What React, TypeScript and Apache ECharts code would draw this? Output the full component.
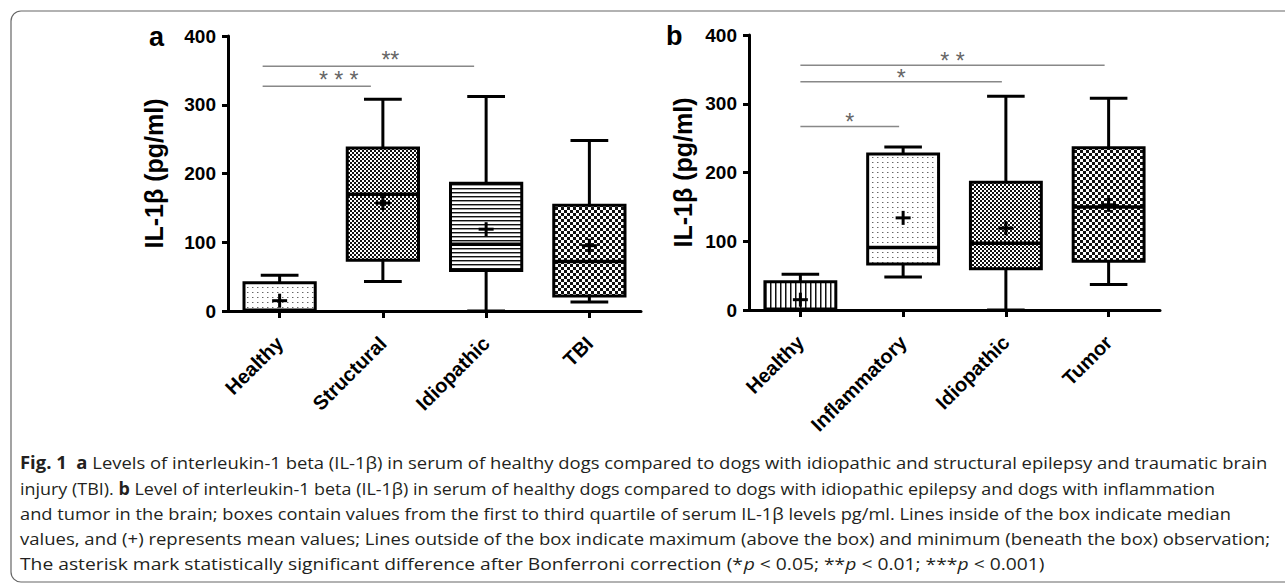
import React, { useEffect, useRef } from 'react';
import * as echarts from 'echarts';

// ---------- Data ----------
const catsA = ['Healthy', 'Structural', 'Idiopathic', 'TBI'];
const minA = [0, 43, 0, 13];
const q1A = [0, 74, 59, 22];
const medA = [1, 170, 97, 72];
const q3A = [41, 237, 186, 154];
const maxA = [52, 308, 312, 248];
const meanA = [15, 157, 119, 95];

const catsB = ['Healthy', 'Inflammatory', 'Idiopathic', 'Tumor'];
const minB = [0, 48, 0, 37];
const q1B = [0, 67, 60, 71];
const medB = [1, 91, 97, 150];
const q3B = [41, 227, 186, 236];
const maxB = [52, 237, 311, 308];
const meanB = [15, 134, 119, 153];

// significance bars: [fromIndex, toIndex, yValue]
const sigFromA = [0, 0];
const sigToA = [1, 2];
const sigYA = [327, 356];
const sigLabelA = ['* * *', '**'];

const sigFromB = [0, 0, 0];
const sigToB = [1, 2, 3];
const sigYB = [267, 332, 356];
const sigLabelB = ['*', '*', '* *'];

const yTicks = [0, 100, 200, 300, 400];

// fill styles per box
const patA = ['dots', 'checkFine', 'hstripes', 'checkLarge'];
const patB = ['vstripes', 'dots', 'checkMed', 'checkLarge'];

const captionLines = [
  '{b|Fig. 1}  {b|a} Levels of interleukin-1 beta (IL-1β) in serum of healthy dogs compared to dogs with idiopathic and structural epilepsy and traumatic brain',
  'injury (TBI). {b|b} Level of interleukin-1 beta (IL-1β) in serum of healthy dogs compared to dogs with idiopathic epilepsy and dogs with inflammation',
  'and tumor in the brain; boxes contain values from the first to third quartile of serum IL-1β levels pg/ml. Lines inside of the box indicate median',
  'values, and (+) represents mean values; Lines outside of the box indicate maximum (above the box) and minimum (beneath the box) observation;',
  'The asterisk mark statistically significant difference after Bonferroni correction (*{i|p} < 0.05; **{i|p} < 0.01; ***{i|p} < 0.001)',
];
const captionTargetW = [1248, 1195, 1213, 1250, 1025];
const captionY = [462, 488, 513, 538, 563];

// ---------- helpers ----------
const AX_FONT = "'Liberation Sans', Arial, Helvetica, sans-serif";
const CAP_FONT = "'Open Sans', 'Noto Sans', sans-serif";
const CAP_SIZE = 17;

function makePattern(kind: string) {
  const c = document.createElement('canvas');
  let w = 4, h = 4;
  if (kind === 'dots') { w = 5; h = 5; }
  if (kind === 'vstripes') { w = 5; h = 4; }
  if (kind === 'checkLarge') { w = 6; h = 6; }
  c.width = w; c.height = h;
  const ctx = c.getContext('2d')!;
  ctx.fillStyle = '#fff';
  ctx.fillRect(0, 0, w, h);
  if (kind === 'dots') {
    ctx.fillStyle = '#666';
    ctx.fillRect(2, 2, 1, 1);
    ctx.fillStyle = '#bbb';
    ctx.fillRect(3, 2, 1, 1);
  } else if (kind === 'hstripes') {
    ctx.fillStyle = '#111';
    ctx.fillRect(0, 0, w, 1);
    ctx.fillStyle = '#999';
    ctx.fillRect(0, 1, w, 1);
  } else if (kind === 'vstripes') {
    ctx.fillStyle = '#111';
    ctx.fillRect(0, 0, 1, h);
    ctx.fillStyle = '#888';
    ctx.fillRect(1, 0, 1, h);
  } else if (kind === 'checkFine' || kind === 'checkMed') {
    ctx.fillStyle = '#111';
    ctx.fillRect(0, 0, 2, 2);
    ctx.fillRect(2, 2, 2, 2);
  } else if (kind === 'checkLarge') {
    ctx.fillStyle = '#111';
    ctx.fillRect(0, 0, 3, 3);
    ctx.fillRect(3, 3, 3, 3);
  }
  return { image: c.toDataURL(), imageWidth: w, imageHeight: h, repeat: 'repeat' };
}

function measureRich(str: string, size: number, fam: string) {
  const ctx = document.createElement('canvas').getContext('2d')!;
  let total = 0;
  let last = 0;
  const re = /\{(\w)\|([^}]*)\}/g;
  let m: RegExpExecArray | null;
  const seg = (t: string, weight: string, style: string) => {
    ctx.font = `${style} ${weight} ${size}px ${fam}`;
    total += ctx.measureText(t).width;
  };
  while ((m = re.exec(str))) {
    seg(str.slice(last, m.index), 'normal', 'normal');
    seg(m[2], m[1] === 'b' ? 'bold' : 'normal', m[1] === 'i' ? 'italic' : 'normal');
    last = re.lastIndex;
  }
  seg(str.slice(last), 'normal', 'normal');
  return total;
}

function boxRender(patterns: string[], fills: Record<string, any>) {
  return (params: any, api: any) => {
    const i = api.value(0);
    const xc = api.coord([i, 0])[0];
    const band = api.size([1, 0])[0];
    const w = band * 0.69;
    const cap = w * 0.53;
    const yMin = api.coord([i, api.value(1)])[1];
    const yQ1 = api.coord([i, api.value(2)])[1];
    const yMed = api.coord([i, api.value(3)])[1];
    const yQ3 = api.coord([i, api.value(4)])[1];
    const yMax = api.coord([i, api.value(5)])[1];
    const yMean = api.coord([i, api.value(6)])[1];
    const blk = { stroke: '#000', lineWidth: 3 };
    const fill = fills[patterns[params.dataIndex]];
    return {
      type: 'group',
      children: [
        { type: 'line', shape: { x1: xc, y1: yMax, x2: xc, y2: yQ3 }, style: blk },
        { type: 'line', shape: { x1: xc - cap / 2, y1: yMax, x2: xc + cap / 2, y2: yMax }, style: blk },
        { type: 'line', shape: { x1: xc, y1: yQ1, x2: xc, y2: yMin }, style: blk },
        { type: 'line', shape: { x1: xc - cap / 2, y1: yMin, x2: xc + cap / 2, y2: yMin }, style: blk },
        {
          type: 'rect',
          shape: { x: xc - w / 2, y: yQ3, width: w, height: yQ1 - yQ3 },
          style: { fill, stroke: '#000', lineWidth: 3 },
        },
        { type: 'line', shape: { x1: xc - w / 2, y1: yMed, x2: xc + w / 2, y2: yMed }, style: { stroke: '#000', lineWidth: 3.5 } },
        { type: 'line', shape: { x1: xc - 7.5, y1: yMean, x2: xc + 7.5, y2: yMean }, style: blk },
        { type: 'line', shape: { x1: xc, y1: yMean - 7, x2: xc, y2: yMean + 7 }, style: blk },
      ],
    };
  };
}

function sigRender(labels: string[], startOff: number, endOff: number, labelDx: number, labelDy: number) {
  return (params: any, api: any) => {
    const p1 = api.coord([api.value(0), api.value(2)]);
    const p2 = api.coord([api.value(1), api.value(2)]);
    const x1 = p1[0] + startOff;
    const x2 = p2[0] + endOff;
    return {
      type: 'group',
      children: [
        { type: 'line', shape: { x1, y1: p1[1], x2, y2: p1[1] }, style: { stroke: '#888', lineWidth: 1.5 } },
        {
          type: 'text',
          x: (x1 + x2) / 2 + labelDx,
          y: p1[1] + labelDy,
          style: {
            text: labels[params.dataIndex],
            fill: '#666',
            fontSize: 23,
            fontFamily: AX_FONT,
            align: 'center',
            verticalAlign: 'middle',
          },
        },
      ],
    };
  };
}

function xAxisCfg(cats: string[], gridIndex: number) {
  return {
    type: 'category',
    gridIndex,
    data: cats,
    axisLine: { lineStyle: { color: '#000', width: 3 } },
    axisTick: { show: true, alignWithLabel: true, length: 7, lineStyle: { color: '#000', width: 3 } },
    axisLabel: { rotate: 45, fontWeight: 'bold', fontSize: 20, color: '#000', fontFamily: AX_FONT, margin: 29, interval: 0 },
    splitLine: { show: false },
  };
}

function yAxisCfg(gridIndex: number, nameGap: number) {
  return {
    type: 'value',
    gridIndex,
    min: yTicks[0],
    max: yTicks[yTicks.length - 1],
    interval: yTicks[1] - yTicks[0],
    name: 'IL-1β (pg/ml)',
    nameLocation: 'middle',
    nameGap,
    nameTextStyle: { fontWeight: 'bold', fontSize: 25, color: '#000', fontFamily: AX_FONT },
    axisLine: { show: true, lineStyle: { color: '#000', width: 3 } },
    axisTick: { show: true, length: 6, lineStyle: { color: '#000', width: 3 } },
    axisLabel: { fontWeight: 'bold', fontSize: 19, color: '#000', fontFamily: AX_FONT, margin: 12 },
    splitLine: { show: false },
  };
}

export default function App() {
  const ref = useRef<HTMLDivElement>(null);
  useEffect(() => {
    if (!ref.current) return;
    const chart = echarts.init(ref.current, undefined, { renderer: 'svg' });
    const kinds = ['dots', 'checkFine', 'checkMed', 'hstripes', 'vstripes', 'checkLarge'];
    const fills: Record<string, any> = {};
    kinds.forEach((k) => (fills[k] = makePattern(k)));

    const boxDataA = catsA.map((_, i) => [i, minA[i], q1A[i], medA[i], q3A[i], maxA[i], meanA[i]]);
    const boxDataB = catsB.map((_, i) => [i, minB[i], q1B[i], medB[i], q3B[i], maxB[i], meanB[i]]);
    const sigDataA = sigFromA.map((f, i) => [f, sigToA[i], sigYA[i]]);
    const sigDataB = sigFromB.map((f, i) => [f, sigToB[i], sigYB[i]]);

    const richStyle = {
      b: { fontWeight: 'bold', fontSize: CAP_SIZE, fontFamily: CAP_FONT, fill: '#231f20' },
      i: { fontStyle: 'italic', fontSize: CAP_SIZE, fontFamily: CAP_FONT, fill: '#231f20' },
    };
    const captionGraphics = captionLines.map((line, k) => {
      const wMeasured = measureRich(line, CAP_SIZE, CAP_FONT) || captionTargetW[k];
      return {
        type: 'text',
        x: 20,
        y: captionY[k],
        scaleX: captionTargetW[k] / wMeasured,
        style: {
          text: line,
          fontSize: CAP_SIZE,
          fontFamily: CAP_FONT,
          fill: '#231f20',
          align: 'left',
          verticalAlign: 'middle',
          rich: richStyle,
        },
      };
    });

    const option: any = {
      animation: false,
      backgroundColor: '#fff',
      grid: [
        { left: 228, top: 36, width: 413, height: 275 },
        { left: 749, top: 35, width: 411, height: 275 },
      ],
      xAxis: [xAxisCfg(catsA, 0), xAxisCfg(catsB, 1)],
      yAxis: [yAxisCfg(0, 62), yAxisCfg(1, 54)],
      series: [
        {
          type: 'custom',
          xAxisIndex: 0,
          yAxisIndex: 0,
          data: boxDataA,
          encode: { x: 0, y: [1, 2, 3, 4, 5, 6] },
          renderItem: boxRender(patA, fills),
          clip: false,
          silent: true,
        },
        {
          type: 'custom',
          xAxisIndex: 1,
          yAxisIndex: 1,
          data: boxDataB,
          encode: { x: 0, y: [1, 2, 3, 4, 5, 6] },
          renderItem: boxRender(patB, fills),
          clip: false,
          silent: true,
        },
        {
          type: 'custom',
          xAxisIndex: 0,
          yAxisIndex: 0,
          data: sigDataA,
          encode: { x: [0, 1], y: 2 },
          renderItem: sigRender(sigLabelA, -17, -12, 22, -6),
          clip: false,
          silent: true,
        },
        {
          type: 'custom',
          xAxisIndex: 1,
          yAxisIndex: 1,
          data: sigDataB,
          encode: { x: [0, 1], y: 2 },
          renderItem: sigRender(sigLabelB, 0, -4, 0, -4),
          clip: false,
          silent: true,
        },
      ],
      graphic: [
        {
          type: 'rect',
          shape: { x: 11, y: 11, width: 1300, height: 571, r: 10 },
          style: { fill: 'none', stroke: '#666', lineWidth: 1.2 },
          silent: true,
        },
        {
          type: 'text',
          x: 149,
          y: 37,
          style: { text: 'a', fontSize: 27, fontWeight: 'bold', fontFamily: AX_FONT, fill: '#000', align: 'left', verticalAlign: 'middle' },
        },
        {
          type: 'text',
          x: 666,
          y: 36,
          style: { text: 'b', fontSize: 27, fontWeight: 'bold', fontFamily: AX_FONT, fill: '#000', align: 'left', verticalAlign: 'middle' },
        },
        ...captionGraphics,
      ],
    };
    chart.setOption(option);
    return () => chart.dispose();
  }, []);
  return (
    <div
      ref={ref}
      style={{ position: 'absolute', left: 0, top: 0, width: 1285, height: 584, background: '#fff' }}
    />
  );
}
